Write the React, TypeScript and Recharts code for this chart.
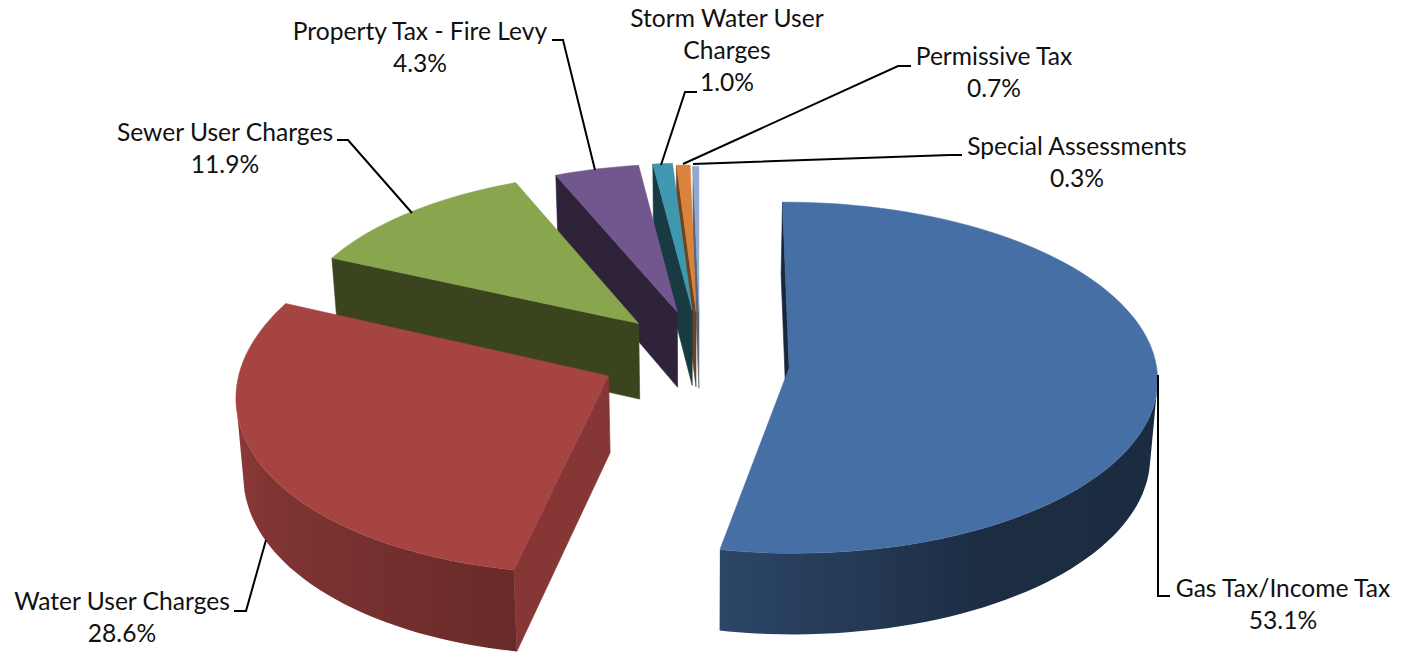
import React from 'react';
import { PieChart, Pie } from 'recharts';

// Painted far to near, so the list runs anticlockwise from twelve o'clock.
const categories = [
  'Special Assessments',
  'Permissive Tax',
  'Storm Water User Charges',
  'Property Tax - Fire Levy',
  'Sewer User Charges',
  'Water User Charges',
  'Gas Tax/Income Tax'
];
const shares = [0.3, 0.7, 1.0, 4.3, 11.9, 28.6, 53.1];
const topColors = ['#92a9cf', '#da833c', '#4098af', '#72578e', '#89a54d', '#a64442', '#4670a5'];
// how much the cut face of each slice is darkened
const cutShades = [0.6, 0.5, 0.38, 0.4, 0.42, 0.8, 0.35];

const pieData = categories.map((name, i) => ({ name, value: shares[i], fill: topColors[i], cutShade: cutShades[i] }));

// Exploded slice offsets on the pie's plane, plus the rim each one ends up with.
// turn, stretch and shear correct the bigger slices for the camera's skew.
const explode: Record<string, { ox: number; oy: number; r: number; turn?: number; stretch?: number; shear?: number }> = {
  'Special Assessments': { ox: 2, oy: -107, r: 334 },
  'Permissive Tax': { ox: -1, oy: -110, r: 334 },
  'Storm Water User Charges': { ox: -5, oy: -113, r: 336 },
  'Property Tax - Fire Levy': { ox: -20, oy: -109, r: 337 },
  'Sewer User Charges': { ox: -59, oy: -84, r: 351, turn: 0.4, stretch: 0.98 },
  'Water User Charges': { ox: -88, oy: 27, r: 369, turn: 1.8, stretch: 1.05, shear: -0.05 },
  'Gas Tax/Income Tax': { ox: 92, oy: 10.5, r: 367, turn: -0.3 }
};

// Text blocks and leader lines around the pie
const callouts: Record<string, { lines: string[]; x: number; y: number; leader: string }> = {
  'Special Assessments': { lines: ['Special Assessments'], x: 1077, y: 155, leader: '962,155 950,155 693,164' },
  'Permissive Tax': { lines: ['Permissive Tax'], x: 994, y: 65, leader: '911,66 898,66 683,164' },
  'Storm Water User Charges': { lines: ['Storm Water User', 'Charges'], x: 727, y: 27, leader: '697,92 685,92 661,165' },
  'Property Tax - Fire Levy': { lines: ['Property Tax - Fire Levy'], x: 420, y: 40, leader: '552,40 563,40 595,170' },
  'Sewer User Charges': { lines: ['Sewer User Charges'], x: 225, y: 141, leader: '337,140 348,140 412,213' },
  'Water User Charges': { lines: ['Water User Charges'], x: 122, y: 610, leader: '234,611 246,611 266,540' },
  'Gas Tax/Income Tax': { lines: ['Gas Tax/Income Tax'], x: 1283, y: 597, leader: '1158,375 1158,596 1170,596' }
};

const WIDTH = 1405;
const HEIGHT = 657;
const CENTER_X = 697;
const CENTER_Y = 363;
const BASE_RADIUS = 367;
const DEPTH = 76.5;
const PERSPECTIVE = 0.00015;
const CAMERA = 3170;
const CONVERGE = 0.016;
const ARC_STEP = 2;
const LINE_HEIGHT = 32;

type Pt = [number, number];

const rad = (deg: number) => (deg * Math.PI) / 180;

// plane coordinates to screen, z runs down through the thickness of the pie
function project(cx: number, cy: number, x: number, y: number, z = 0): Pt {
  const f = 1 / (1 - PERSPECTIVE * y);
  const squeeze = 1 - (CONVERGE * z) / DEPTH;
  return [cx + x * f * squeeze, cy + CAMERA * (f - 1) + z * f];
}

function wallLight(clock: number) {
  const stops = [[0, 0.9], [90, 0.38], [150, 0.4], [190, 0.62], [270, 0.87], [360, 0.9]];
  const a = ((clock % 360) + 360) % 360;
  for (let i = 1; i < stops.length; i++) {
    if (a <= stops[i][0]) {
      const t = (a - stops[i - 1][0]) / (stops[i][0] - stops[i - 1][0]);
      return stops[i - 1][1] + t * (stops[i][1] - stops[i - 1][1]);
    }
  }
  return 0.9;
}

function darken(hex: string, k: number) {
  const n = parseInt(hex.slice(1), 16);
  const c = [(n >> 16) & 255, (n >> 8) & 255, n & 255].map((v) => Math.round(v * k));
  return `rgb(${c[0]},${c[1]},${c[2]})`;
}

const toPoints = (pts: Pt[]) => pts.map((p) => `${p[0].toFixed(1)},${p[1].toFixed(1)}`).join(' ');

function signedArea(pts: Pt[]) {
  let sum = 0;
  pts.forEach((p, i) => {
    const q = pts[(i + 1) % pts.length];
    sum += p[0] * q[1] - q[0] * p[1];
  });
  return sum;
}

function Slice3D(props: any) {
  const { cx, cy, outerRadius, startAngle, endAngle, fill, name, cutShade } = props;
  const layout = explode[name];
  const r = (layout.r / BASE_RADIUS) * outerRadius;
  const turn = layout.turn ?? 0;
  const stretch = layout.stretch ?? 1;
  const shear = layout.shear ?? 0;
  // library angles run anticlockwise from three o'clock
  const from = 90 - endAngle + turn;
  const to = 90 - startAngle + turn;

  const rim = (clock: number, z = 0) => {
    const dx = r * Math.sin(rad(clock));
    const dy = -r * Math.cos(rad(clock)) * stretch + shear * dx;
    return project(cx, cy, layout.ox + dx, layout.oy + dy, z);
  };
  const tip = (z = 0) => project(cx, cy, layout.ox, layout.oy, z);

  const angles: number[] = [];
  for (let a = from; a < to; a += ARC_STEP) angles.push(a);
  angles.push(to);

  const cut = darken(fill, cutShade);
  const faces: Pt[][] = [
    [tip(), rim(from), rim(from, DEPTH), tip(DEPTH)],
    [rim(to), tip(), tip(DEPTH), rim(to, DEPTH)]
  ].filter((face) => signedArea(face as Pt[]) < 0) as Pt[][];

  // outer wall: only the stretch that faces the viewer, shaded left to right by angle
  const facing = angles.filter((a, i) => {
    const next = angles[i + 1] ?? a;
    const prev = angles[i - 1] ?? a;
    const p = next === a ? prev : a;
    const q = next === a ? a : next;
    return signedArea([rim(p), rim(q), rim(q, DEPTH), rim(p, DEPTH)]) < 0;
  });
  const gradientId = `wall-${categories.indexOf(name)}`;
  const xs = facing.map((a) => rim(a)[0]);
  const left = Math.min(...xs);
  const right = Math.max(...xs);
  const byX = [...facing].sort((a, b) => rim(a)[0] - rim(b)[0]);

  const top = [tip(), ...angles.map((a) => rim(a))];
  return (
    <g>
      {faces.map((face, i) => (
        <polygon key={i} points={toPoints(face)} fill={cut} stroke={cut} strokeWidth={0.6} />
      ))}
      {facing.length > 1 && right > left && (
        <>
          <defs>
            <linearGradient id={gradientId} gradientUnits="userSpaceOnUse" x1={left} x2={right} y1={0} y2={0}>
              {byX.map((a, i) => (
                <stop key={i} offset={(rim(a)[0] - left) / (right - left)} stopColor={darken(fill, wallLight(a))} />
              ))}
            </linearGradient>
          </defs>
          <polygon
            points={toPoints([...facing.map((a) => rim(a)), ...[...facing].reverse().map((a) => rim(a, DEPTH))])}
            fill={`url(#${gradientId})`}
          />
        </>
      )}
      <polygon points={toPoints(top)} fill={fill} stroke={fill} strokeWidth={0.5} />
    </g>
  );
}

function Callout(props: any) {
  const { name, value } = props;
  const spot = callouts[name];
  const rows = [...spot.lines, `${value.toFixed(1)}%`];
  return (
    <g>
      <polyline points={spot.leader} fill="none" stroke="#000" strokeWidth={2} />
      {rows.map((row, i) => (
        <text
          key={row}
          x={spot.x}
          y={spot.y + i * LINE_HEIGHT}
          textAnchor="middle"
          fontFamily="Lato, sans-serif"
          fontSize={24.6}
          fill="#111"
        >
          {row}
        </text>
      ))}
    </g>
  );
}

export default function App() {
  return (
    <div style={{ position: 'absolute', left: 0, top: 0, width: WIDTH, height: HEIGHT, background: '#fff' }}>
      <PieChart width={WIDTH} height={HEIGHT} margin={{ top: 0, right: 0, bottom: 0, left: 0 }}>
        <Pie
          data={pieData}
          dataKey="value"
          nameKey="name"
          cx={CENTER_X}
          cy={CENTER_Y}
          innerRadius={0}
          outerRadius={BASE_RADIUS}
          startAngle={90}
          endAngle={450}
          stroke="none"
          shape={Slice3D}
          label={Callout}
          labelLine={false}
          isAnimationActive={false}
        />
      </PieChart>
    </div>
  );
}
